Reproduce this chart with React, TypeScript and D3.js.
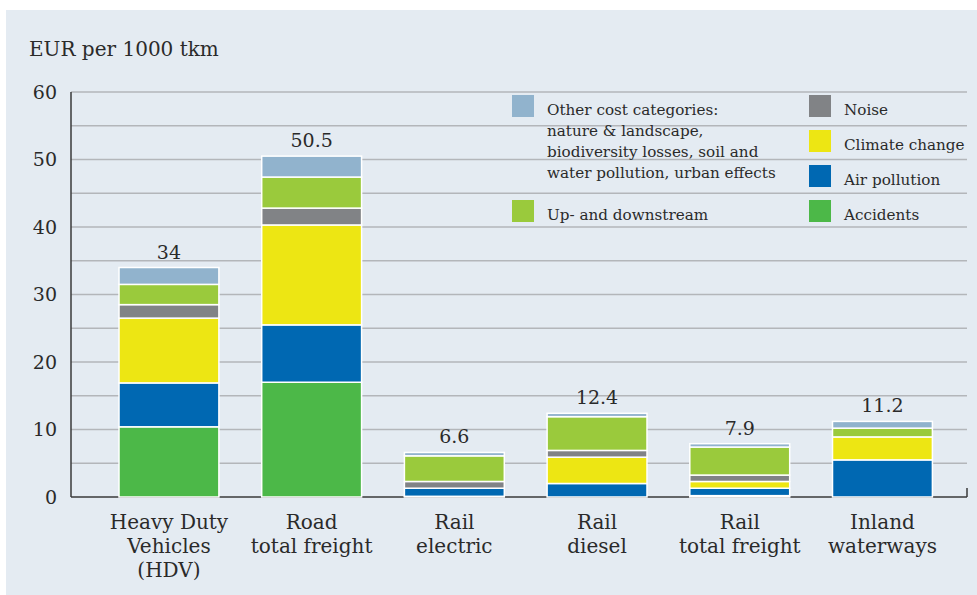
import React from "react";
import * as d3 from "d3";

// EUR per 1000 tkm
const categories = ["HDV", "Road", "RailElectric", "RailDiesel", "RailTotal", "Inland"];
const categoryLines = [
  ["Heavy Duty", "Vehicles", "(HDV)"],
  ["Road", "total freight"],
  ["Rail", "electric"],
  ["Rail", "diesel"],
  ["Rail", "total freight"],
  ["Inland", "waterways"],
];
const accidents = [10.4, 17.0, 0.1, 0, 0.2, 0];
const airPollution = [6.5, 8.5, 1.2, 2.0, 1.1, 5.5];
const climateChange = [9.6, 14.8, 0, 3.9, 1.0, 3.4];
const noise = [2.0, 2.5, 1.0, 1.0, 0.95, 0];
const upDownstream = [3.0, 4.6, 3.8, 5.0, 4.15, 1.3];
const otherCosts = [2.5, 3.1, 0.5, 0.5, 0.5, 1.0];
const totalLabels = ["34", "50.5", "6.6", "12.4", "7.9", "11.2"];
const yTicks = [0, 10, 20, 30, 40, 50, 60];
const gridTicks = [5, 10, 15, 20, 25, 30, 35, 40, 45, 50, 55, 60];

const seriesKeys = ["accidents", "air", "climate", "noise", "updown", "other"];
const seriesColors: Record<string, string> = {
  accidents: "#4cb848",
  air: "#0068b2",
  climate: "#ede613",
  noise: "#818386",
  updown: "#9aca3c",
  other: "#91b3cd",
};

const legendLeft = [
  {
    key: "other",
    lines: [
      "Other cost categories:",
      "nature & landscape,",
      "biodiversity losses, soil and",
      "water pollution, urban effects",
    ],
  },
  { key: "updown", lines: ["Up- and downstream"] },
];
const legendRight = [
  { key: "noise", label: "Noise" },
  { key: "climate", label: "Climate change" },
  { key: "air", label: "Air pollution" },
  { key: "accidents", label: "Accidents" },
];

const W = 977;
const H = 595;
const FONT = "'DejaVu Serif', serif";
const TEXT = "#2a2a2a";

export default function App() {
  const rows = categories.map((c, i) => ({
    cat: c,
    accidents: accidents[i],
    air: airPollution[i],
    climate: climateChange[i],
    noise: noise[i],
    updown: upDownstream[i],
    other: otherCosts[i],
  }));

  const x = d3.scaleBand().domain(categories).range([97.6, 953.8]).paddingInner(0.3).paddingOuter(0.15);
  const y = d3.scaleLinear().domain([0, 60]).range([497, 92]);
  const stacked = d3.stack<any>().keys(seriesKeys)(rows);

  const axisLeft = 71;
  const axisRight = 967;

  return (
    <>
      <style>{`body{margin:0}`}</style>
      <svg width={W} height={H} style={{ display: "block" }} fontFamily={FONT}>
        <rect x={0} y={0} width={W} height={H} fill="#ffffff" />
        <rect x={6} y={10} width={W - 6} height={H - 10} fill="#e4ebf2" />

        <text x={29} y={56} fontSize={20} fill={TEXT}>EUR per 1000 tkm</text>

        {gridTicks.map((t) => (
          <line key={t} x1={axisLeft} x2={axisRight} y1={y(t)} y2={y(t)} stroke="#b3b6ba" strokeWidth={1.5} />
        ))}
        {yTicks.map((t) => (
          <text key={t} x={57} y={y(t)} dy="0.36em" textAnchor="end" fontSize={19} fill={TEXT}>
            {t}
          </text>
        ))}

        <line x1={axisLeft} x2={axisLeft} y1={y(60)} y2={y(0)} stroke="#3a3a3a" strokeWidth={1.5} />
        <line x1={axisLeft} x2={axisRight} y1={y(0)} y2={y(0)} stroke="#3a3a3a" strokeWidth={1.5} />
        <line x1={axisRight} x2={axisRight} y1={y(0)} y2={y(0) - 9} stroke="#3a3a3a" strokeWidth={1.5} />

        {stacked.map((s) => (
          <g key={s.key} fill={seriesColors[s.key]}>
            {s.map((d, i) =>
              d[1] - d[0] > 0 ? (
                <rect
                  key={i}
                  x={x(categories[i])}
                  width={x.bandwidth()}
                  y={y(d[1])}
                  height={y(d[0]) - y(d[1])}
                  stroke="#ffffff"
                  strokeWidth={1.5}
                />
              ) : null
            )}
          </g>
        ))}

        {categories.map((c, i) => {
          const top = d3.sum(seriesKeys, (k) => (rows[i] as any)[k]);
          return (
            <text key={c} x={x(c)! + x.bandwidth() / 2} y={y(top) - 9} textAnchor="middle" fontSize={19} fill={TEXT}>
              {totalLabels[i]}
            </text>
          );
        })}

        {categories.map((c, i) => (
          <text key={c} x={x(c)! + x.bandwidth() / 2} y={529} textAnchor="middle" fontSize={20} fill={TEXT}>
            {categoryLines[i].map((l, j) => (
              <tspan key={j} x={x(c)! + x.bandwidth() / 2} dy={j === 0 ? 0 : 24}>
                {l}
              </tspan>
            ))}
          </text>
        ))}

        <g fontSize={15.2} fill={TEXT}>
          {legendLeft.map((item, i) => {
            const top = i === 0 ? 95 : 200;
            return (
              <g key={item.key}>
                <rect x={512} y={top} width={22} height={22} fill={seriesColors[item.key]} />
                <text x={547} y={top + 20}>
                  {item.lines.map((l, j) => (
                    <tspan key={j} x={547} dy={j === 0 ? 0 : 21}>
                      {l}
                    </tspan>
                  ))}
                </text>
              </g>
            );
          })}
          {legendRight.map((item, i) => {
            const top = 95 + i * 35;
            return (
              <g key={item.key}>
                <rect x={809} y={top} width={22} height={22} fill={seriesColors[item.key]} />
                <text x={844} y={top + 20}>{item.label}</text>
              </g>
            );
          })}
        </g>
      </svg>
    </>
  );
}
